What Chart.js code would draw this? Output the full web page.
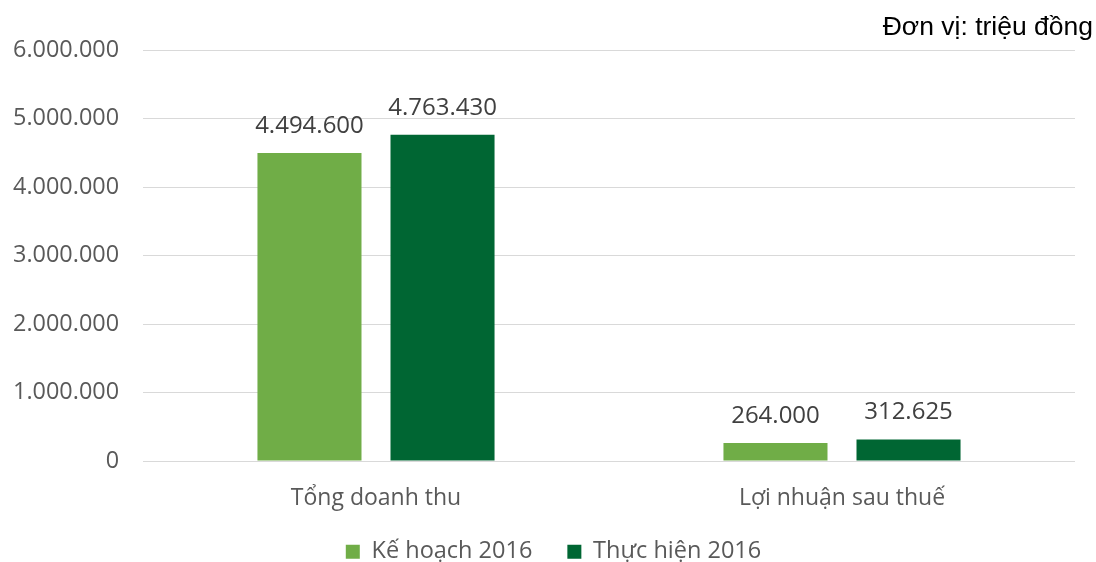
<!DOCTYPE html>
<html lang="vi">
<head>
  <meta charset="UTF-8">
  <title>Kế hoạch và thực hiện 2016</title>
  <script src="https://cdn.jsdelivr.net/npm/chart.js"></script>
  <style>
    body { margin: 0; background: #fff; }
    canvas { display: block; }
  </style>
</head>
<body>
  <canvas id="chart" width="1096" height="562"></canvas>

  <script>
    const categories = ['Tổng doanh thu', 'Lợi nhuận sau thuế'];
    const keHoach = [4494600, 264000];
    const thucHien = [4763430, 312625];
    const unitLabel = 'Đơn vị: triệu đồng';

    const fmt = v => String(v).replace(/\B(?=(\d{3})+(?!\d))/g, '.');

    // draws the value above each bar + the unit note at top right
    const labelsPlugin = {
      id: 'barLabels',
      afterLayout(chart) {
        // nudge the legend a bit right and up, like the original
        const lg = chart.legend;
        lg.left += 16; lg.right += 16;
        lg.top -= 6; lg.bottom = chart.height;
      },
      afterDatasetsDraw(chart) {
        const ctx = chart.ctx;
        ctx.save();
        ctx.fillStyle = '#404040';
        ctx.font = '24px "Open Sans"';
        ctx.textAlign = 'center';
        ctx.textBaseline = 'middle';
        chart.data.datasets.forEach((ds, i) => {
          chart.getDatasetMeta(i).data.forEach((bar, j) => {
            ctx.fillText(fmt(ds.data[j]), bar.x, bar.y - 27);
          });
        });
        ctx.fillStyle = '#000';
        ctx.font = '26.5px "Liberation Sans"';
        ctx.textAlign = 'right';
        ctx.fillText(unitLabel, 1093, 28);
        ctx.restore();
      }
    };

    new Chart(document.getElementById('chart'), {
      type: 'bar',
      data: {
        labels: categories,
        datasets: [
          { label: 'Kế hoạch 2016', data: keHoach, backgroundColor: '#70AD47' },
          { label: 'Thực hiện 2016', data: thucHien, backgroundColor: '#006633' }
        ]
      },
      options: {
        responsive: false,
        animation: false,
        categoryPercentage: 0.571,
        barPercentage: 0.782,
        layout: { padding: { top: 50, right: 21, left: 0, bottom: 0 } },
        plugins: {
          legend: {
            position: 'bottom',
            maxHeight: 51,
            labels: {
              boxWidth: 14,
              boxHeight: 14,
              padding: 35,
              color: '#595959',
              font: { family: 'Open Sans', size: 23.5 }
            }
          },
          tooltip: { enabled: false }
        },
        scales: {
          x: {
            grid: { display: false },
            border: { display: false },
            ticks: {
              color: '#595959',
              padding: 16,
              font: { family: 'Open Sans', size: 23 }
            },
            afterFit: s => { s.height = 50; }
          },
          y: {
            min: 0,
            max: 6000000,
            grid: { color: '#d9d9d9', drawTicks: false },
            border: { display: false },
            ticks: {
              stepSize: 1000000,
              color: '#595959',
              padding: 24,
              font: { family: 'Open Sans', size: 23.4 },
              callback: v => fmt(v)
            },
            afterFit: s => { s.width = 143; }
          }
        }
      },
      plugins: [labelsPlugin]
    });
  </script>
</body>
</html>
